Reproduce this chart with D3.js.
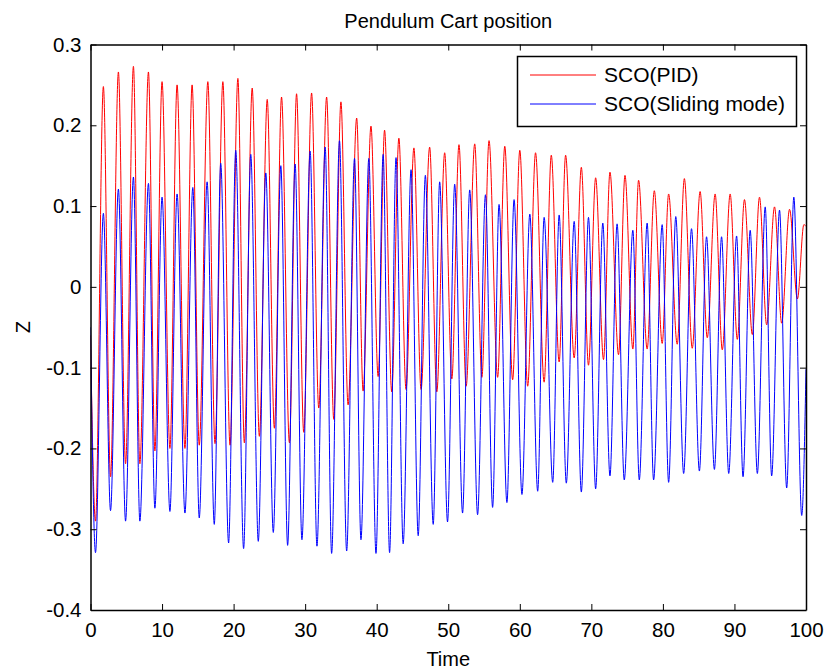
<!DOCTYPE html>
<html lang="en">
<head>
    <meta charset="UTF-8">
    <title>Pendulum Cart position</title>
    <script src="https://d3js.org/d3.v7.min.js"></script>
    <style>
        body {
            margin: 0;
            padding: 0;
            background-color: #ffffff;
        }
        svg {
            display: block;
            font-family: "Liberation Sans", Arial, sans-serif;
        }
    </style>
</head>
<body>
    <svg width="828" height="671"></svg>
    <script>
        // time / value of each turning point
        const pidTime = [0, 0.7, 1.8, 2.8, 3.9, 4.9, 6.0, 6.9, 8.1, 9.0, 10.0, 11.1, 12.1, 13.2, 14.2, 15.2, 16.4, 17.4, 18.5, 19.5,
            20.6, 21.5, 22.6, 23.6, 24.7, 25.7, 26.7, 27.8, 28.8, 29.8, 30.9, 31.9, 33.0, 34.0, 35.0, 36.0, 37.2, 38.1, 39.2, 40.2,
            41.1, 42.1, 43.1, 44.1, 45.2, 46.2, 47.4, 48.4, 49.5, 50.5, 51.5, 52.5, 53.7, 54.7, 55.7, 56.9, 57.9, 59.0, 60.0, 61.1,
            62.2, 63.4, 64.4, 65.5, 66.4, 67.6, 68.6, 69.6, 70.6, 71.7, 72.6, 73.8, 74.7, 75.8, 76.6, 77.8, 78.8, 79.9, 80.8, 82.0,
            83.0, 84.1, 85.2, 86.2, 87.3, 88.3, 89.4, 90.4, 91.4, 92.5, 93.5, 94.5, 95.6, 96.6, 97.7, 98.8, 99.7, 100];
        const pidZ = [-0.06, -0.29, 0.248, -0.235, 0.266, -0.219, 0.273, -0.219, 0.266, -0.203, 0.254, -0.2, 0.25, -0.2, 0.25, -0.196, 0.254, -0.194, 0.254, -0.196,
            0.258, -0.193, 0.246, -0.185, 0.232, -0.175, 0.235, -0.193, 0.239, -0.18, 0.24, -0.15, 0.235, -0.164, 0.229, -0.146, 0.209, -0.129, 0.199, -0.111,
            0.194, -0.13, 0.184, -0.127, 0.172, -0.127, 0.173, -0.13, 0.166, -0.114, 0.176, -0.123, 0.177, -0.112, 0.181, -0.112, 0.174, -0.115, 0.169, -0.123,
            0.166, -0.118, 0.163, -0.093, 0.163, -0.088, 0.148, -0.097, 0.135, -0.09, 0.142, -0.084, 0.138, -0.077, 0.132, -0.077, 0.119, -0.07, 0.115, -0.071,
            0.134, -0.076, 0.118, -0.063, 0.115, -0.078, 0.115, -0.065, 0.108, -0.059, 0.111, -0.047, 0.099, -0.045, 0.096, -0.015, 0.077, 0.075];

        const smcTime = [0, 0.7, 1.8, 2.8, 3.9, 4.9, 6.0, 6.9, 8.1, 9.0, 10.0, 11.1, 12.1, 13.2, 14.3, 15.2, 16.3, 17.3, 18.2, 19.3,
            20.3, 21.4, 22.4, 23.45, 24.5, 25.55, 26.6, 27.55, 28.6, 29.55, 30.7, 31.65, 32.8, 33.7, 34.8, 35.8, 36.9, 37.8, 38.9, 39.9,
            40.9, 41.8, 42.7, 43.7, 44.8, 45.8, 46.8, 47.9, 48.8, 49.9, 50.9, 52.0, 53.0, 54.1, 55.2, 56.2, 57.1, 58.2, 59.2, 60.3,
            61.4, 62.5, 63.4, 64.6, 65.5, 66.5, 67.6, 68.6, 69.6, 70.6, 71.6, 72.6, 73.6, 74.6, 75.8, 76.7, 77.8, 78.7, 79.9, 80.8,
            81.8, 82.9, 84.0, 85.1, 86.1, 87.2, 88.2, 89.2, 90.3, 91.2, 92.2, 93.2, 94.3, 95.2, 96.3, 97.3, 98.3, 99.4, 100];
        const smcZ = [-0.05, -0.329, 0.091, -0.277, 0.121, -0.29, 0.136, -0.29, 0.128, -0.274, 0.111, -0.278, 0.115, -0.28, 0.123, -0.286, 0.13, -0.294, 0.153, -0.317,
            0.169, -0.324, 0.164, -0.315, 0.141, -0.304, 0.15, -0.32, 0.152, -0.313, 0.168, -0.321, 0.173, -0.33, 0.181, -0.327, 0.159, -0.313, 0.159, -0.33,
            0.164, -0.329, 0.16, -0.318, 0.145, -0.308, 0.138, -0.294, 0.13, -0.291, 0.127, -0.28, 0.12, -0.282, 0.114, -0.273, 0.102, -0.267, 0.108, -0.257,
            0.09, -0.253, 0.086, -0.242, 0.089, -0.243, 0.081, -0.254, 0.086, -0.25, 0.079, -0.234, 0.078, -0.239, 0.07, -0.239, 0.079, -0.239, 0.077, -0.242,
            0.087, -0.231, 0.072, -0.228, 0.062, -0.226, 0.062, -0.231, 0.063, -0.235, 0.07, -0.231, 0.099, -0.234, 0.095, -0.249, 0.111, -0.283, -0.102];

        const xTicks = [0, 10, 20, 30, 40, 50, 60, 70, 80, 90, 100];
        const yTicks = [0.3, 0.2, 0.1, 0, -0.1, -0.2, -0.3, -0.4];
        const seriesNames = ["SCO(PID)", "SCO(Sliding mode)"];
        const seriesColors = ["#ff0000", "#0000ff"];

        const plotLeft = 90.5, plotRight = 806, plotTop = 44.5, plotBottom = 610;

        const svg = d3.select("svg");

        const x = d3.scaleLinear().domain([0, 100]).range([plotLeft, plotRight]);
        const y = d3.scaleLinear().domain([-0.4, 0.3]).range([plotBottom, plotTop]);

        svg.append("clipPath").attr("id", "plotArea")
            .append("rect")
            .attr("x", plotLeft).attr("y", plotTop)
            .attr("width", plotRight - plotLeft).attr("height", plotBottom - plotTop);

        const line = d3.line()
            .x(d => x(d[0]))
            .y(d => y(d[1]))
            .curve(d3.curveMonotoneX);

        const series = [
            d3.zip(pidTime, pidZ),
            d3.zip(smcTime, smcZ)
        ];

        svg.append("g")
            .attr("clip-path", "url(#plotArea)")
            .selectAll("path")
            .data(series)
            .join("path")
            .attr("d", line)
            .attr("fill", "none")
            .attr("stroke", (d, i) => seriesColors[i])
            .attr("stroke-width", 1);

        // axes, matlab style: ticks inside on all four sides
        const fmt = d => d === 0 ? "0" : String(+d.toFixed(1));

        svg.append("g")
            .attr("transform", `translate(0,${plotBottom})`)
            .call(d3.axisBottom(x).tickValues(xTicks).tickSizeInner(-6).tickSizeOuter(0).tickPadding(12).tickFormat(fmt));
        svg.append("g")
            .attr("transform", `translate(0,${plotTop})`)
            .call(d3.axisTop(x).tickValues(xTicks).tickSizeInner(-6).tickSizeOuter(0).tickFormat(""));
        svg.append("g")
            .attr("transform", `translate(${plotLeft},0)`)
            .call(d3.axisLeft(y).tickValues(yTicks).tickSizeInner(-6).tickSizeOuter(0).tickPadding(9).tickFormat(fmt));
        svg.append("g")
            .attr("transform", `translate(${plotRight},0)`)
            .call(d3.axisRight(y).tickValues(yTicks).tickSizeInner(-6).tickSizeOuter(0).tickFormat(""));

        svg.selectAll(".domain").attr("stroke", "#000").attr("stroke-width", 1.5);
        svg.selectAll(".tick line").attr("stroke", "#000");
        svg.selectAll(".tick text")
            .attr("font-family", "'Liberation Sans', Arial, sans-serif")
            .attr("font-size", 20.5)
            .attr("fill", "#000");

        svg.append("text")
            .attr("x", (plotLeft + plotRight) / 2).attr("y", 28)
            .attr("text-anchor", "middle")
            .attr("font-size", 20)
            .text("Pendulum Cart position");

        svg.append("text")
            .attr("x", (plotLeft + plotRight) / 2).attr("y", 666)
            .attr("text-anchor", "middle")
            .attr("font-size", 20)
            .text("Time");

        svg.append("text")
            .attr("transform", `translate(30,${(plotTop + plotBottom) / 2}) rotate(-90)`)
            .attr("text-anchor", "middle")
            .attr("font-size", 20)
            .text("Z");

        // legend
        const legend = svg.append("g");
        legend.append("rect")
            .attr("x", 517.5).attr("y", 56.5)
            .attr("width", 279).attr("height", 70)
            .attr("fill", "#fff")
            .attr("stroke", "#000")
            .attr("stroke-width", 1.5);

        const rows = legend.selectAll("g.row")
            .data(seriesNames)
            .join("g")
            .attr("class", "row")
            .attr("transform", (d, i) => `translate(0,${75 + i * 29})`);
        rows.append("line")
            .attr("x1", 530).attr("x2", 596)
            .attr("stroke", (d, i) => seriesColors[i])
            .attr("stroke-width", 1);
        rows.append("text")
            .attr("x", 604).attr("y", 7)
            .attr("font-size", 21)
            .text(d => d);
    </script>
</body>
</html>
